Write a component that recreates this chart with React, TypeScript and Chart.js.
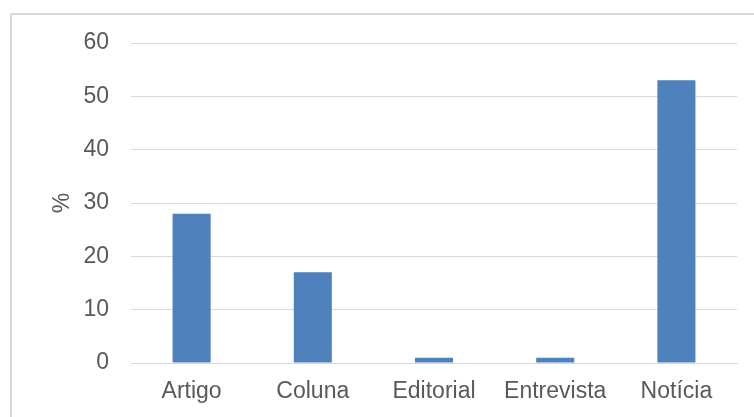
import React, { useEffect, useRef } from "react";
import { Chart, registerables } from "chart.js";

Chart.register(...registerables);

const categories = ["Artigo", "Coluna", "Editorial", "Entrevista", "Notícia"];
const values = [28, 17, 1, 1, 53];
const yMin = 0;
const yMax = 60;
const yStep = 10;
const yTitle = "%";

const textColor = "#595959";
const gridColor = "#d9d9d9";
const barColor = "#4f81bd";
const fontFamily = "'Liberation Sans', Arial, sans-serif";
const fontSize = 23;

const frameBorder = {
  id: "frameBorder",
  beforeDraw(chart: any) {
    const ctx = chart.ctx;
    ctx.save();
    ctx.fillStyle = "#d9d9d9";
    ctx.fillRect(10, 13, chart.width - 10, 2);
    ctx.fillRect(10, 13, 2, chart.height - 13);
    ctx.restore();
  },
};

export default function App() {
  const ref = useRef<HTMLCanvasElement | null>(null);

  useEffect(() => {
    if (!ref.current) return;
    const chart = new Chart(ref.current, {
      type: "bar",
      data: {
        labels: categories,
        datasets: [
          {
            data: values,
            backgroundColor: barColor,
            borderWidth: 0,
            barPercentage: 0.314,
            categoryPercentage: 1,
          },
        ],
      },
      options: {
        animation: false,
        responsive: false,
        maintainAspectRatio: false,
        layout: { padding: { left: 0, right: 17, top: 43, bottom: 0 } },
        plugins: {
          legend: { display: false },
          tooltip: { enabled: false },
        },
        scales: {
          x: {
            grid: { display: false, drawTicks: false },
            border: { display: true, color: gridColor, width: 1 },
            ticks: {
              color: textColor,
              font: { family: fontFamily, size: fontSize },
              padding: 15,
              maxRotation: 0,
              autoSkip: false,
            },
            afterFit: (s: any) => {
              s.height = 54;
            },
          },
          y: {
            min: yMin,
            max: yMax,
            grid: { color: gridColor, drawTicks: false, lineWidth: 1 },
            border: { display: false },
            ticks: {
              stepSize: yStep,
              color: textColor,
              font: { family: fontFamily, size: fontSize },
              padding: 22,
            },
            title: {
              display: true,
              text: yTitle,
              color: textColor,
              font: { family: fontFamily, size: fontSize },
              padding: { top: 49, bottom: 0 },
            },
            afterFit: (s: any) => {
              s.width = 131;
            },
          },
        },
      },
      plugins: [frameBorder],
    });
    return () => chart.destroy();
  }, []);

  return (
    <div style={{ position: "absolute", left: 0, top: 0, width: 754, height: 417, background: "#fff" }}>
      <canvas ref={ref} width={754} height={417} style={{ display: "block" }} />
    </div>
  );
}
